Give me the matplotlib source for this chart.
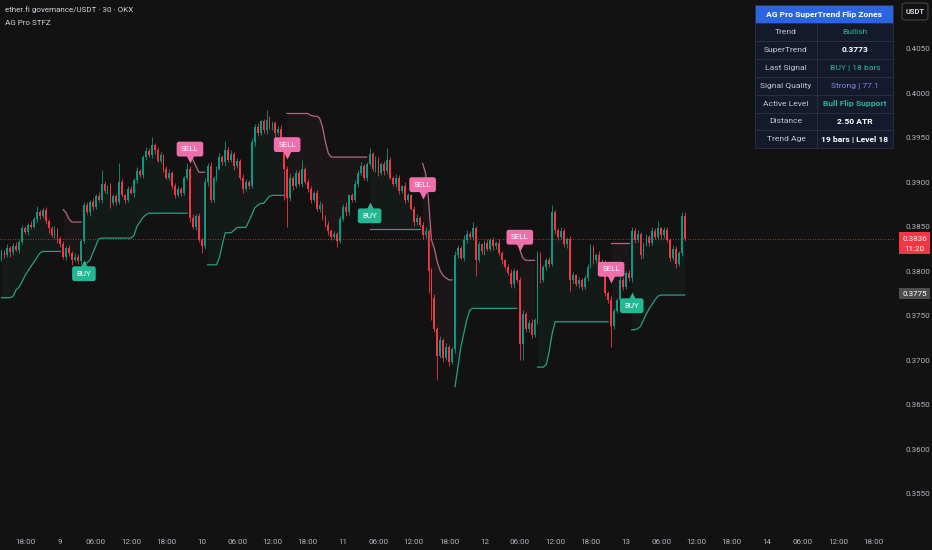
import numpy as np
import matplotlib.pyplot as plt
from matplotlib.patches import Rectangle, FancyBboxPatch
from matplotlib.transforms import offset_copy

plt.rcParams['font.family'] = ['Roboto', 'DejaVu Sans']

# === data (prices in 1e-4 units, 30 min bars, bar 20 = day 9 00:00) ===
open0 = 3815
closes = [
    3822, 3818, 3826, 3821, 3828, 3824, 3833, 3848, 3844, 3852, 3850, 3858, 3866, 3862, 3868, 3856, 3848, 3840, 3846, 3836,
    3830, 3816, 3826, 3820, 3812, 3816, 3811, 3834, 3874, 3866, 3878, 3872, 3884, 3880, 3898, 3890, 3895, 3876, 3884, 3878,
    3900, 3885, 3880, 3892, 3888, 3902, 3912, 3908, 3928, 3935, 3930, 3942, 3936, 3924, 3930, 3915, 3905, 3910, 3896, 3885,
    3892, 3888, 3904, 3915, 3860, 3850, 3862, 3835, 3828, 3900, 3918, 3880, 3905, 3915, 3928, 3922, 3936, 3925, 3932, 3918,
    3924, 3905, 3892, 3900, 3895, 3945, 3962, 3955, 3968, 3958, 3970, 3962, 3966, 3955, 3960, 3940, 3915, 3882, 3905, 3895,
    3910, 3898, 3915, 3900, 3892, 3880, 3888, 3870, 3874, 3860, 3852, 3845, 3838, 3842, 3834, 3858, 3872, 3866, 3885, 3880,
    3898, 3910, 3918, 3905, 3920, 3932, 3915, 3925, 3910, 3920, 3912, 3925, 3905, 3898, 3905, 3890, 3895, 3880, 3885, 3870,
    3855, 3860, 3852, 3840, 3845, 3800, 3770, 3735, 3705, 3722, 3702, 3715, 3698, 3712, 3818, 3826, 3815, 3835, 3842, 3838,
    3848, 3812, 3830, 3822, 3832, 3825, 3835, 3828, 3832, 3820, 3812, 3805, 3798, 3785, 3800, 3790, 3718, 3752, 3735, 3742,
    3728, 3745, 3818, 3790, 3805, 3812, 3808, 3866, 3846, 3838, 3845, 3830, 3836, 3790, 3795, 3785, 3790, 3782, 3792, 3805,
    3826, 3812, 3818, 3800, 3810, 3775, 3768, 3738, 3755, 3768, 3790, 3782, 3798, 3792, 3845, 3835, 3842, 3818, 3830, 3838,
    3832, 3845, 3838, 3848, 3840, 3846, 3835, 3815, 3825, 3808, 3820, 3862, 3836,
]
wick_up = [
    3, 2, 4, 2, 3, 5, 2, 4, 3, 2, 4, 3, 7, 2, 3, 4, 2, 3, 5, 2,
    3, 4, 2, 3, 2, 4, 3, 2, 4, 3, 2, 4, 3, 5, 15, 3, 2, 4, 3, 2,
    21, 3, 2, 4, 3, 2, 5, 3, 2, 4, 3, 9, 2, 3, 4, 2, 3, 5, 2, 3,
    4, 2, 3, 6, 3, 4, 2, 3, 2, 5, 3, 4, 2, 3, 5, 2, 10, 3, 4, 2,
    3, 2, 4, 3, 2, 5, 3, 4, 2, 3, 11, 4, 3, 2, 3, 4, 2, 3, 5, 2,
    3, 4, 10, 2, 3, 4, 2, 3, 5, 2, 3, 4, 2, 3, 2, 4, 3, 5, 2, 3,
    4, 3, 5, 2, 3, 6, 2, 4, 3, 2, 4, 13, 3, 2, 4, 3, 2, 5, 3, 2,
    3, 4, 2, 3, 5, 2, 3, 4, 2, 5, 3, 4, 2, 3, 4, 3, 2, 5, 4, 3,
    7, 3, 4, 2, 3, 4, 2, 3, 2, 4, 3, 2, 3, 4, 3, 2, 3, 4, 2, 3,
    4, 2, 4, 3, 2, 3, 4, 8, 3, 2, 4, 3, 2, 3, 4, 2, 3, 2, 4, 3,
    4, 3, 2, 4, 3, 2, 3, 4, 3, 2, 4, 3, 2, 3, 5, 3, 4, 2, 3, 4,
    2, 4, 3, 8, 2, 4, 3, 2, 4, 3, 2, 4, 4,
]
wick_dn = [
    4, 3, 2, 5, 3, 2, 4, 3, 2, 4, 3, 2, 3, 4, 2, 3, 5, 2, 3, 4,
    3, 2, 4, 3, 5, 2, 3, 4, 3, 2, 4, 3, 2, 3, 4, 2, 3, 5, 2, 4,
    3, 2, 4, 3, 2, 5, 3, 2, 4, 3, 2, 3, 4, 2, 3, 4, 2, 3, 4, 3,
    2, 4, 3, 2, 5, 3, 4, 2, 8, 3, 4, 2, 3, 4, 2, 3, 4, 2, 3, 4,
    2, 3, 4, 2, 3, 2, 4, 3, 2, 3, 4, 2, 3, 4, 2, 3, 35, 32, 3, 4,
    2, 3, 4, 2, 3, 4, 2, 3, 4, 3, 2, 4, 3, 2, 7, 3, 2, 4, 3, 2,
    3, 4, 2, 3, 4, 2, 3, 4, 3, 2, 4, 3, 2, 3, 4, 3, 2, 4, 3, 2,
    4, 3, 2, 4, 3, 25, 25, 4, 27, 3, 4, 2, 5, 3, 4, 3, 2, 4, 3, 2,
    3, 18, 2, 3, 4, 2, 3, 4, 3, 2, 4, 3, 2, 3, 4, 2, 18, 18, 3, 4,
    3, 2, 4, 3, 2, 4, 3, 2, 4, 3, 2, 3, 4, 12, 3, 2, 4, 3, 2, 3,
    2, 4, 3, 2, 4, 3, 4, 23, 3, 2, 4, 3, 2, 3, 4, 3, 2, 4, 3, 2,
    4, 3, 2, 3, 4, 3, 2, 4, 3, 5, 2, 3, 2,
]
supertrend = (
    [3770, 3770, 3770, 3770, 3772, 3779, 3782, 3788, 3795, 3800, 3805, 3810, 3815, 3820] + [3822] * 7
    + [3869, 3865, 3858] + [3855] * 4
    + [3809, 3809, 3812, 3820, 3828, 3836] + [3837] * 11 + [3840, 3850, 3855, 3860, 3863] + [3865] * 14
    + [3930, 3925, 3918] + [3911] * 3
    + [3807] * 4 + [3815, 3830] + [3843] * 3 + [3846] + [3849] * 4
    + [3856, 3863, 3871, 3874, 3876, 3876, 3880, 3884] + [3885] * 5
    + [3977] * 8 + [3975, 3974, 3974, 3972, 3962, 3945, 3932] + [3928] * 13
    + [3847] * 18
    + [3921, 3910, 3880, 3835, 3825, 3810, 3800, 3795, 3792, 3790, 3790]
    + [3670, 3692, 3715, 3730, 3745, 3756] + [3758] * 16
    + [3824, 3815] + [3812] * 4
    + [3692] * 3 + [3695, 3710, 3730] + [3743] * 19
    + [3832] * 7
    + [3734, 3734, 3735, 3738, 3745, 3752, 3758, 3763, 3768, 3772] + [3773] * 9
)
flip_bars = [0, 21, 28, 64, 70, 97, 125, 143, 154, 176, 182, 207, 214]   # trend starts bullish, alternates
sig_bars = [28, 64, 97, 125, 143, 176, 207, 214]
sig_types = ['BUY', 'SELL', 'SELL', 'BUY', 'SELL', 'SELL', 'SELL', 'BUY']
sig_levels = [3797, 3937, 3942, 3862, 3897, 3838, 3802, 3761]

tick_pos = list(range(8, 297, 12))
tick_labels = ['18:00', '9', '06:00', '12:00', '18:00', '10', '06:00', '12:00', '18:00', '11',
               '06:00', '12:00', '18:00', '12', '06:00', '12:00', '18:00', '13', '06:00', '12:00',
               '18:00', '14', '06:00', '12:00', '18:00']

table_rows = [('Trend', 'Bullish'), ('SuperTrend', '0.3773'), ('Last Signal', 'BUY | 18 bars'),
              ('Signal Quality', 'Strong | 77.1'), ('Active Level', 'Bull Flip Support'),
              ('Distance', '2.50 ATR'), ('Trend Age', '19 bars | Level 18')]
last_price = 0.3836
st_scale_label = 0.3775

# === styling ===
BG = '#121212'
UP, DN = '#089981', '#f23645'
ST_BULL, ST_BEAR = '#24a083', '#b5677f'
BUY_C, SELL_C = '#21b894', '#f06eaa'
TXT = '#b2b5be'
W, H = 932, 550

c = np.array(closes) / 1e4
o = np.concatenate([[open0 / 1e4], c[:-1]])
hi = np.maximum(o, c) + np.array(wick_up) / 1e4
lo = np.minimum(o, c) - np.array(wick_dn) / 1e4
st = np.array(supertrend) / 1e4
k = np.arange(len(c))

fig = plt.figure(figsize=(W / 100, H / 100), dpi=100, facecolor=BG)
ax = fig.add_axes([0, 1 - 527 / H, 895 / W, 527 / H], facecolor=BG)

# supertrend lines + zone fill
bounds = flip_bars + [len(c)]
for i in range(len(flip_bars)):
    s, e = bounds[i], bounds[i + 1]
    col = ST_BULL if i % 2 == 0 else ST_BEAR
    ax.plot(k[s:e], st[s:e], color=col, lw=0.9, zorder=2)
    ax.fill_between(k[s:e], st[s:e], c[s:e], color=col, alpha=0.06, lw=0, zorder=1)

# candles
cols = np.where(c >= o, UP, DN)
ax.vlines(k, lo, hi, colors=cols, lw=0.6, zorder=3)
ax.bar(k, np.maximum(np.abs(c - o), 0.00003), bottom=np.minimum(o, c), width=0.62,
       color=cols, lw=0, zorder=4)

# last price line
ax.axhline(last_price, color=DN, lw=0.6, ls=(0, (1, 2)), zorder=2)

# signal labels
for kb, t, lvl in zip(sig_bars, sig_types, sig_levels):
    col = BUY_C if t == 'BUY' else SELL_C
    ax.text(kb, lvl / 1e4, t, ha='center', va='center', fontsize=5.8, color='white', zorder=7,
            bbox=dict(boxstyle='round,pad=0.55,rounding_size=0.3', fc=col, ec='none'))
    dy = 7.2 if t == 'BUY' else -7.2
    tr = offset_copy(ax.transData, fig=fig, y=dy, units='points')
    ax.plot(kb, lvl / 1e4, marker='^' if t == 'BUY' else 'v', ms=5.5, color=col, mec='none',
            transform=tr, zorder=6)

ax.set_xlim(-0.5, 303.4)
ax.set_ylim(0.35124, 0.41045)
ax.set_xticks(tick_pos)
ax.set_xticklabels(tick_labels)
ax.set_yticks(np.arange(0.3550, 0.40501, 0.005))
ax.yaxis.tick_right()
ax.yaxis.set_major_formatter(plt.FormatStrFormatter('%.4f'))
ax.tick_params(axis='both', length=0, colors=TXT, labelsize=5.8)
ax.tick_params(axis='x', pad=9)
ax.tick_params(axis='y', pad=7.5)
for sp in ax.spines.values():
    sp.set_visible(False)


def fx(px):
    return px / W


def fy(py):
    return 1 - py / H


# header texts
fig.text(fx(5), fy(10), 'ether.fi governance/USDT · 30 · OKX', fontsize=5.8, color='#d1d4dc', va='center')
fig.text(fx(5), fy(23), 'AG Pro STFZ', fontsize=5.8, color='#d1d4dc', va='center')

# info table
x0, x1, x2 = 755, 817, 893
y_top, hdr_h, row_h = 5, 18, 17.9
fig.add_artist(Rectangle((fx(x0), fy(y_top + hdr_h)), fx(x2 - x0), hdr_h / H,
                         transform=fig.transFigure, fc='#2a64e0', ec='#2b3245', lw=0.6, zorder=5))
fig.text(fx((x0 + x2) / 2), fy(y_top + hdr_h / 2), 'AG Pro SuperTrend Flip Zones', fontsize=6.1,
         color='white', weight='bold', ha='center', va='center', zorder=6)
val_colors = ['#2bb596', 'white', '#2bb596', '#8585e6', '#2bb596', 'white', 'white']
val_bold = [False, True, False, False, True, True, True]
for i, (lab, val) in enumerate(table_rows):
    yt = y_top + hdr_h + i * row_h
    for xa, xb in ((x0, x1), (x1, x2)):
        fig.add_artist(Rectangle((fx(xa), fy(yt + row_h)), fx(xb - xa), row_h / H,
                                 transform=fig.transFigure, fc='#141a2b', ec='#2b3245', lw=0.6, zorder=5))
    fig.text(fx((x0 + x1) / 2), fy(yt + row_h / 2), lab, fontsize=6.1, color='#c3c7d0',
             ha='center', va='center', zorder=6)
    fig.text(fx((x1 + x2) / 2), fy(yt + row_h / 2), val, fontsize=6.1, color=val_colors[i],
             weight='bold' if val_bold[i] else 'normal', ha='center', va='center', zorder=6)

# USDT button
fig.add_artist(FancyBboxPatch((fx(902), fy(20)), fx(26), 17 / H, boxstyle='round,pad=0,rounding_size=0.004',
                              transform=fig.transFigure, fc=BG, ec='#4a4a4a', lw=0.7, zorder=5))
fig.text(fx(915), fy(11.5), 'USDT', fontsize=5.4, color='#d1d4dc', weight='bold', ha='center', va='center', zorder=6)

# price scale labels
fig.add_artist(Rectangle((fx(899), fy(254)), fx(31), 22 / H, transform=fig.transFigure,
                         fc=DN, ec='none', zorder=5))
fig.text(fx(914.5), fy(239), f'{last_price:.4f}', fontsize=5.8, color='white', ha='center', va='center', zorder=6)
fig.text(fx(914.5), fy(248.5), '11:20', fontsize=5.8, color='white', ha='center', va='center', zorder=6)
fig.add_artist(Rectangle((fx(899), fy(299)), fx(31), 11 / H, transform=fig.transFigure,
                         fc='#4d4d4d', ec='none', zorder=5))
fig.text(fx(914.5), fy(293.5), f'{st_scale_label:.4f}', fontsize=5.8, color='white', ha='center', va='center', zorder=6)

fig.savefig('out.png', dpi=100, facecolor=BG)
